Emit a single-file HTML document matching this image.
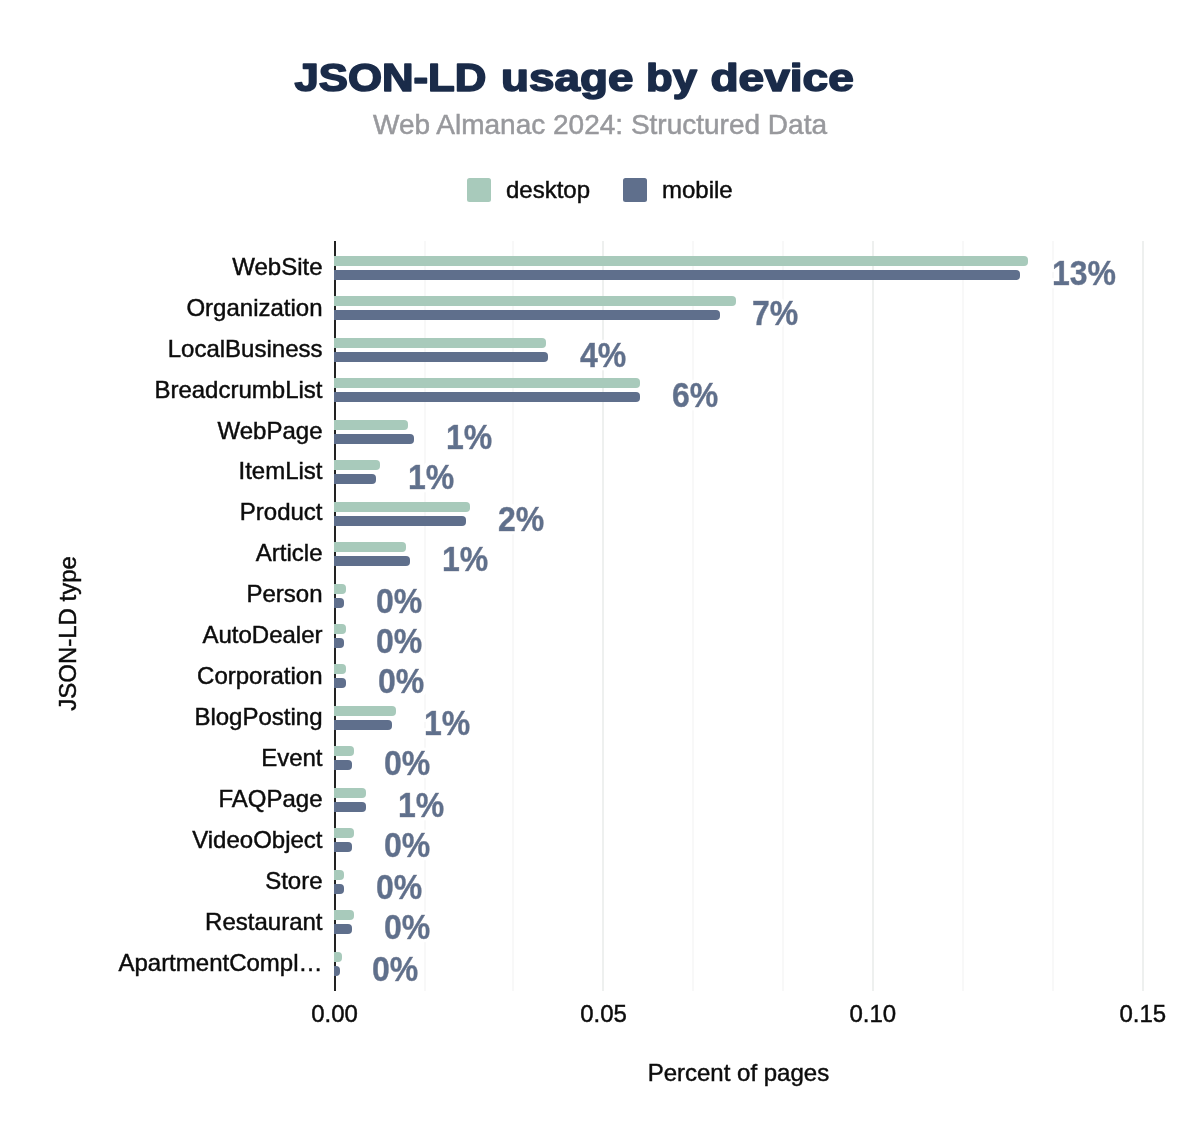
<!DOCTYPE html>
<html lang="en"><head><meta charset="utf-8"><title>JSON-LD usage by device</title>
<style>
html,body{margin:0;padding:0;background:#fff}
body{width:1200px;height:1144px;overflow:hidden}
svg{display:block}
text{font-family:"Liberation Sans",sans-serif}
.cat{font-size:24px;fill:#0c0c0c;stroke:#0c0c0c;stroke-width:.45;text-anchor:end}
.tick{font-size:24px;fill:#0c0c0c;stroke:#0c0c0c;stroke-width:.45;text-anchor:middle}
.ax{font-size:24px;fill:#0c0c0c;stroke:#0c0c0c;stroke-width:.45;text-anchor:middle}
.lg{font-size:24px;fill:#0c0c0c;stroke:#0c0c0c;stroke-width:.45}
.dl{font-size:32px;font-weight:bold;fill:#5f6f8c;stroke:#5f6f8c;stroke-width:.5;filter:url(#halo)}
</style></head><body>
<svg width="1200" height="1144" viewBox="0 0 1200 1144">
<defs><filter id="halo" x="-15%" y="-25%" width="130%" height="150%"><feMorphology in="SourceAlpha" operator="dilate" radius="2.5" result="d"/><feFlood flood-color="#fff"/><feComposite in2="d" operator="in" result="h"/><feMerge><feMergeNode in="h"/><feMergeNode in="SourceGraphic"/></feMerge></filter></defs>
<rect width="1200" height="1144" fill="#fff"/>
<text id="title" y="90.9" font-size="38" font-weight="bold" fill="#1a2b49" stroke="#1a2b49" stroke-width="1.6" stroke-linejoin="round"><tspan x="294.4" textLength="192.0" lengthAdjust="spacingAndGlyphs">JSON-LD</tspan> <tspan x="501.0" textLength="132.4" lengthAdjust="spacingAndGlyphs">usage</tspan> <tspan x="646.0" textLength="51.0" lengthAdjust="spacingAndGlyphs">by</tspan> <tspan x="710.4" textLength="143.4" lengthAdjust="spacingAndGlyphs">device</tspan></text>
<text id="sub" x="600" y="134.4" font-size="28" fill="#98999d" stroke="#98999d" stroke-width=".5" text-anchor="middle">Web Almanac 2024: Structured Data</text>
<rect x="467" y="178" width="24" height="24" rx="2.5" fill="#a8cabb"/>
<text class="lg" x="506" y="197.5">desktop</text>
<rect x="623" y="178" width="24" height="24" rx="2.5" fill="#5f6f8c"/>
<text class="lg" x="662" y="197.5">mobile</text>
<rect x="424" y="241" width="2" height="750" fill="#f8f8f8"/>
<rect x="512" y="241" width="2" height="750" fill="#f8f8f8"/>
<rect x="692" y="241" width="2" height="750" fill="#f8f8f8"/>
<rect x="782" y="241" width="2" height="750" fill="#f8f8f8"/>
<rect x="962" y="241" width="2" height="750" fill="#f8f8f8"/>
<rect x="1052" y="241" width="2" height="750" fill="#f8f8f8"/>
<rect x="602" y="241" width="2" height="750" fill="#eef0ef"/>
<rect x="872" y="241" width="2" height="750" fill="#eef0ef"/>
<rect x="1142" y="241" width="2" height="750" fill="#eef0ef"/>
<rect x="334" y="241" width="2" height="750" fill="#222"/>
<path d="M334 256H1024A4 4 0 0 1 1028 260V262A4 4 0 0 1 1024 266H334Z" fill="#a8cabb"/>
<path d="M334 270H1016A4 4 0 0 1 1020 274V276A4 4 0 0 1 1016 280H334Z" fill="#5f6f8c"/>
<text class="cat" x="322.5" y="274.7">WebSite</text>
<text class="dl" transform="translate(1052.0 284.9) scale(1 1.07)">13%</text>
<path d="M334 296H732A4 4 0 0 1 736 300V302A4 4 0 0 1 732 306H334Z" fill="#a8cabb"/>
<path d="M334 310H716A4 4 0 0 1 720 314V316A4 4 0 0 1 716 320H334Z" fill="#5f6f8c"/>
<text class="cat" x="322.5" y="315.6">Organization</text>
<text class="dl" transform="translate(752.0 324.9) scale(1 1.07)">7%</text>
<path d="M334 338H542A4 4 0 0 1 546 342V344A4 4 0 0 1 542 348H334Z" fill="#a8cabb"/>
<path d="M334 352H544A4 4 0 0 1 548 356V358A4 4 0 0 1 544 362H334Z" fill="#5f6f8c"/>
<text class="cat" x="322.5" y="356.6">LocalBusiness</text>
<text class="dl" transform="translate(580.0 366.9) scale(1 1.07)">4%</text>
<path d="M334 378H636A4 4 0 0 1 640 382V384A4 4 0 0 1 636 388H334Z" fill="#a8cabb"/>
<path d="M334 392H636A4 4 0 0 1 640 396V398A4 4 0 0 1 636 402H334Z" fill="#5f6f8c"/>
<text class="cat" x="322.5" y="397.5">BreadcrumbList</text>
<text class="dl" transform="translate(672.0 406.9) scale(1 1.07)">6%</text>
<path d="M334 420H404A4 4 0 0 1 408 424V426A4 4 0 0 1 404 430H334Z" fill="#a8cabb"/>
<path d="M334 434H410A4 4 0 0 1 414 438V440A4 4 0 0 1 410 444H334Z" fill="#5f6f8c"/>
<text class="cat" x="322.5" y="438.5">WebPage</text>
<text class="dl" transform="translate(446.0 448.9) scale(1 1.07)">1%</text>
<path d="M334 460H376A4 4 0 0 1 380 464V466A4 4 0 0 1 376 470H334Z" fill="#a8cabb"/>
<path d="M334 474H372A4 4 0 0 1 376 478V480A4 4 0 0 1 372 484H334Z" fill="#5f6f8c"/>
<text class="cat" x="322.5" y="479.4">ItemList</text>
<text class="dl" transform="translate(408.0 488.9) scale(1 1.07)">1%</text>
<path d="M334 502H466A4 4 0 0 1 470 506V508A4 4 0 0 1 466 512H334Z" fill="#a8cabb"/>
<path d="M334 516H462A4 4 0 0 1 466 520V522A4 4 0 0 1 462 526H334Z" fill="#5f6f8c"/>
<text class="cat" x="322.5" y="520.3">Product</text>
<text class="dl" transform="translate(498.0 530.9) scale(1 1.07)">2%</text>
<path d="M334 542H402A4 4 0 0 1 406 546V548A4 4 0 0 1 402 552H334Z" fill="#a8cabb"/>
<path d="M334 556H406A4 4 0 0 1 410 560V562A4 4 0 0 1 406 566H334Z" fill="#5f6f8c"/>
<text class="cat" x="322.5" y="561.3">Article</text>
<text class="dl" transform="translate(442.0 570.9) scale(1 1.07)">1%</text>
<path d="M334 584H342A4 4 0 0 1 346 588V590A4 4 0 0 1 342 594H334Z" fill="#a8cabb"/>
<path d="M334 598H340A4 4 0 0 1 344 602V604A4 4 0 0 1 340 608H334Z" fill="#5f6f8c"/>
<text class="cat" x="322.5" y="602.2">Person</text>
<text class="dl" transform="translate(376.0 612.9) scale(1 1.07)">0%</text>
<path d="M334 624H342A4 4 0 0 1 346 628V630A4 4 0 0 1 342 634H334Z" fill="#a8cabb"/>
<path d="M334 638H340A4 4 0 0 1 344 642V644A4 4 0 0 1 340 648H334Z" fill="#5f6f8c"/>
<text class="cat" x="322.5" y="643.2">AutoDealer</text>
<text class="dl" transform="translate(376.0 652.9) scale(1 1.07)">0%</text>
<path d="M334 664H342A4 4 0 0 1 346 668V670A4 4 0 0 1 342 674H334Z" fill="#a8cabb"/>
<path d="M334 678H342A4 4 0 0 1 346 682V684A4 4 0 0 1 342 688H334Z" fill="#5f6f8c"/>
<text class="cat" x="322.5" y="684.1">Corporation</text>
<text class="dl" transform="translate(378.0 692.9) scale(1 1.07)">0%</text>
<path d="M334 706H392A4 4 0 0 1 396 710V712A4 4 0 0 1 392 716H334Z" fill="#a8cabb"/>
<path d="M334 720H388A4 4 0 0 1 392 724V726A4 4 0 0 1 388 730H334Z" fill="#5f6f8c"/>
<text class="cat" x="322.5" y="725.0">BlogPosting</text>
<text class="dl" transform="translate(424.0 734.9) scale(1 1.07)">1%</text>
<path d="M334 746H350A4 4 0 0 1 354 750V752A4 4 0 0 1 350 756H334Z" fill="#a8cabb"/>
<path d="M334 760H348A4 4 0 0 1 352 764V766A4 4 0 0 1 348 770H334Z" fill="#5f6f8c"/>
<text class="cat" x="322.5" y="766.0">Event</text>
<text class="dl" transform="translate(384.0 774.9) scale(1 1.07)">0%</text>
<path d="M334 788H362A4 4 0 0 1 366 792V794A4 4 0 0 1 362 798H334Z" fill="#a8cabb"/>
<path d="M334 802H362A4 4 0 0 1 366 806V808A4 4 0 0 1 362 812H334Z" fill="#5f6f8c"/>
<text class="cat" x="322.5" y="806.9">FAQPage</text>
<text class="dl" transform="translate(398.0 816.9) scale(1 1.07)">1%</text>
<path d="M334 828H350A4 4 0 0 1 354 832V834A4 4 0 0 1 350 838H334Z" fill="#a8cabb"/>
<path d="M334 842H348A4 4 0 0 1 352 846V848A4 4 0 0 1 348 852H334Z" fill="#5f6f8c"/>
<text class="cat" x="322.5" y="847.9">VideoObject</text>
<text class="dl" transform="translate(384.0 856.9) scale(1 1.07)">0%</text>
<path d="M334 870H340A4 4 0 0 1 344 874V876A4 4 0 0 1 340 880H334Z" fill="#a8cabb"/>
<path d="M334 884H340A4 4 0 0 1 344 888V890A4 4 0 0 1 340 894H334Z" fill="#5f6f8c"/>
<text class="cat" x="322.5" y="888.8">Store</text>
<text class="dl" transform="translate(376.0 898.9) scale(1 1.07)">0%</text>
<path d="M334 910H350A4 4 0 0 1 354 914V916A4 4 0 0 1 350 920H334Z" fill="#a8cabb"/>
<path d="M334 924H348A4 4 0 0 1 352 928V930A4 4 0 0 1 348 934H334Z" fill="#5f6f8c"/>
<text class="cat" x="322.5" y="929.7">Restaurant</text>
<text class="dl" transform="translate(384.0 938.9) scale(1 1.07)">0%</text>
<path d="M334 952H338A4 4 0 0 1 342 956V958A4 4 0 0 1 338 962H334Z" fill="#a8cabb"/>
<path d="M334 966H336A4 4 0 0 1 340 970V972A4 4 0 0 1 336 976H334Z" fill="#5f6f8c"/>
<text class="cat" x="322.5" y="970.7">ApartmentCompl…</text>
<text class="dl" transform="translate(372.0 980.9) scale(1 1.07)">0%</text>
<text class="tick" x="334.5" y="1022">0.00</text>
<text class="tick" x="603.5" y="1022">0.05</text>
<text class="tick" x="872.8" y="1022">0.10</text>
<text class="tick" x="1142.8" y="1022">0.15</text>
<text class="ax" x="738.4" y="1081.2">Percent of pages</text>
<text class="ax" transform="translate(76 633.4) rotate(-90)">JSON-LD type</text>
</svg></body></html>
